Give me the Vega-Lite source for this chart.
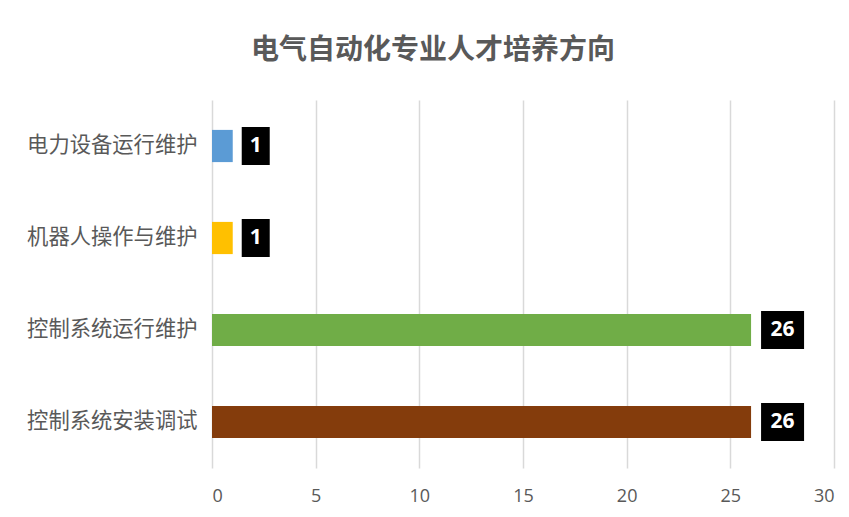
{
  "$schema": "https://vega.github.io/schema/vega-lite/v6.json",
  "autosize": "none",
  "width": 622,
  "height": 368,
  "padding": {"left": 212, "top": 100, "right": 15, "bottom": 49},
  "background": "white",
  "config": {"view": {"stroke": null}, "font": "Noto Sans CJK SC"},
  "title": {
    "text": "电气自动化专业人才培养方向",
    "fontSize": 28,
    "fontWeight": "bold",
    "color": "#595959",
    "font": "Noto Sans CJK SC",
    "anchor": "middle",
    "dx": -90,
    "offset": 35
  },
  "data": {
    "values": [
      {"category": "电力设备运行维护", "value": 1, "color": "#5B9BD5"},
      {"category": "机器人操作与维护", "value": 1, "color": "#FFC000"},
      {"category": "控制系统运行维护", "value": 26, "color": "#70AD47"},
      {"category": "控制系统安装调试", "value": 26, "color": "#843C0C"}
    ]
  },
  "encoding": {
    "y": {
      "field": "category",
      "type": "nominal",
      "sort": null,
      "title": null,
      "scale": {"paddingInner": 0.65, "paddingOuter": 0.325},
      "axis": {
        "domain": false,
        "ticks": false,
        "grid": false,
        "labelFontSize": 21.3,
        "labelColor": "#595959",
        "labelPadding": 15,
        "labelFont": "Noto Sans CJK SC"
      }
    },
    "x": {
      "field": "value",
      "type": "quantitative",
      "title": null,
      "scale": {"domain": [0, 30], "nice": false},
      "axis": {
        "values": [0, 5, 10, 15, 20, 25, 30],
        "domain": false,
        "ticks": false,
        "grid": true,
        "gridColor": "#d9d9d9",
        "gridWidth": 1.5,
        "labelFontSize": 18,
        "labelColor": "#595959",
        "labelPadding": 19,
        "labelFont": "Open Sans"
      }
    }
  },
  "layer": [
    {
      "mark": {"type": "bar"},
      "encoding": {"color": {"field": "color", "type": "nominal", "scale": null}}
    },
    {
      "mark": {"type": "point", "filled": true, "opacity": 1, "size": 400, "color": "black"},
      "encoding": {
        "shape": {
          "condition": {"test": "datum.value >= 10", "value": "M1,-1.9H5.3V1.9H1Z"},
          "value": "M0.9,-1.9H3.7V1.9H0.9Z"
        }
      }
    },
    {
      "transform": [{"filter": "datum.value < 10"}],
      "mark": {"type": "text", "align": "center", "baseline": "middle", "dx": 23, "fontSize": 21, "fontWeight": "bold", "color": "white", "font": "Open Sans"},
      "encoding": {"text": {"field": "value", "type": "quantitative"}}
    },
    {
      "transform": [{"filter": "datum.value >= 10"}],
      "mark": {"type": "text", "align": "center", "baseline": "middle", "dx": 31.5, "fontSize": 21, "fontWeight": "bold", "color": "white", "font": "Open Sans"},
      "encoding": {"text": {"field": "value", "type": "quantitative"}}
    }
  ]
}
